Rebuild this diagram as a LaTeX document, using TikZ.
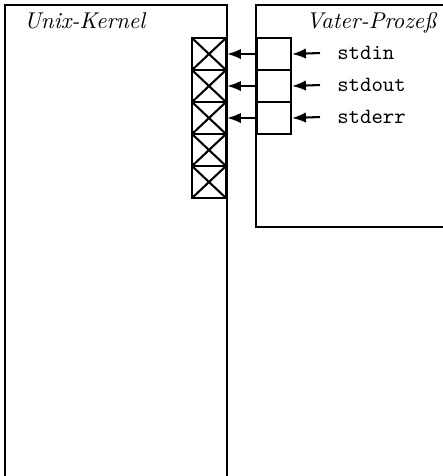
\documentclass[tikz,border=0pt]{standalone}
\usepackage{tikz}
\usetikzlibrary{arrows.meta}

\tikzset{
  fdbox/.style={draw, inner sep=0pt, minimum width=15.6pt, minimum height=14.7pt},
  fdcross/.style={fdbox, path picture={
      \draw (path picture bounding box.north west) -- (path picture bounding box.south east)
            (path picture bounding box.south west) -- (path picture bounding box.north east);}},
  fdname/.style={anchor=west, font=\ttfamily, inner sep=0pt, inner xsep=7.5pt},
  title/.style={anchor=base west, inner sep=0pt, font=\fontsize{10.5}{12}\selectfont\itshape}
}

\begin{document}
\begin{tikzpicture}[x=0.46pt, y=-0.46pt, line width=0.95pt, >={Latex[length=6.4pt,width=4.8pt]}]
  \useasboundingbox (0,0) rectangle (443,476);
  \clip (0,0) rectangle (443,476);
  % Kernel und Prozess
  \draw (5,480) -- (5,5) -- (227,5) -- (227,480);
  \draw (450,5) -- (256,5) -- (256,227) -- (450,227);
  \node[title] (kernel) at (23,28) {Unix-Kernel};
  \node[title] (vater) at (305,28) {Vater-Proze\ss};
  % Dateideskriptortabelle
  \foreach \i in {0,...,4}
    \node[fdcross, anchor=north east] (k\i) at (227,37+32*\i) {};
  % stdin, stdout, stderr
  \foreach \i/\t in {0/stdin, 1/stdout, 2/stderr} {
    \node[fdbox, anchor=north west] (v\i) at (256,37+32*\i) {};
    \node[fdname] (l\i) at (320,53+32*\i) {\t};
    \draw[->] (v\i.west) -- (k\i.east);
    \draw[->] (l\i.west) -- (v\i.east);
  }
\end{tikzpicture}
\end{document}
